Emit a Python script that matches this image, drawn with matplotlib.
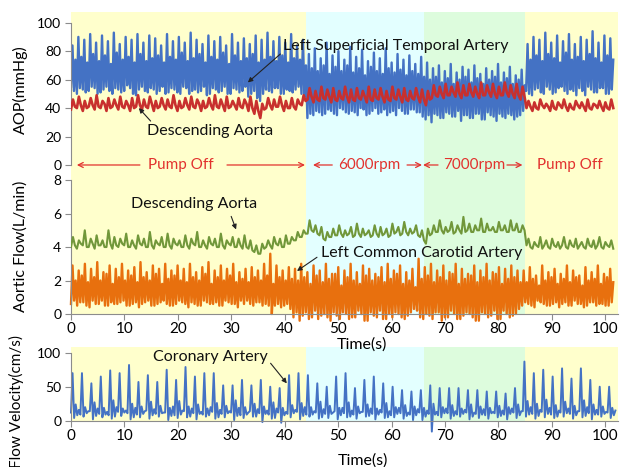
import numpy as np
import matplotlib.pyplot as plt

plt.rcParams["font.family"] = ["Lato", "DejaVu Sans"]

# pump phases (s)
phase_edges = [0, 44, 66, 85, 103]
phase_colors = ["#FFFFCC", "#E3FFFF", "#DDFCDD", "#FFFFCC"]
phase_names = ["Pump Off", "6000rpm", "7000rpm", "Pump Off"]

# AOP, left superficial temporal artery (mmHg), per beat: low, peak, low, mid
aop_lsta = [
    55, 84, 52, 74, 50, 90, 54, 76, 53, 88, 51, 72, 52, 92, 55, 78, 54, 86, 50, 73,
    51, 91, 53, 77, 55, 87, 52, 71, 50, 93, 54, 79, 53, 85, 51, 74, 52, 90, 56, 76,
    54, 88, 50, 72, 49, 92, 53, 78, 55, 86, 52, 73, 51, 91, 54, 75, 53, 89, 50, 77,
    52, 84, 55, 72, 50, 92, 51, 76, 54, 87, 53, 74, 51, 90, 50, 79, 55, 86, 54, 73,
    50, 93, 52, 75, 53, 88, 51, 78, 52, 85, 55, 72, 49, 91, 50, 76, 54, 87, 53, 74,
    51, 90, 52, 79, 55, 84, 50, 71, 50, 92, 54, 77, 53, 86, 51, 73, 52, 89, 55, 75,
    48, 85, 50, 78, 52, 91, 47, 72, 45, 88, 50, 74, 53, 93, 52, 76, 51, 87, 54, 73,
    54, 90, 50, 77, 50, 86, 53, 72, 52, 92, 51, 75, 53, 84, 55, 74, 50, 88, 48, 70,
    # 6000 rpm
    33, 78, 36, 68, 35, 82, 38, 66, 37, 75, 35, 70, 36, 86, 39, 64, 38, 77, 36, 69,
    35, 80, 40, 66, 39, 74, 37, 70, 36, 83, 38, 65, 37, 76, 35, 68, 40, 81, 39, 63,
    35, 73, 36, 69, 38, 79, 40, 66, 36, 75, 37, 64, 39, 82, 35, 68, 37, 72, 38, 65,
    35, 78, 40, 67, 38, 74, 36, 63, 36, 77, 39, 66, 39, 71, 37, 64, 37, 76, 34, 62,
    # 7000 rpm
    32, 72, 35, 60, 30, 68, 36, 62, 35, 70, 33, 58, 33, 66, 37, 61, 36, 71, 34, 57,
    34, 65, 38, 60, 31, 69, 35, 62, 35, 67, 33, 58, 33, 70, 36, 61, 36, 64, 32, 57,
    32, 68, 37, 60, 35, 66, 34, 62, 31, 71, 36, 58, 34, 65, 33, 61, 36, 69, 35, 57,
    32, 63, 34, 60, 35, 67, 38, 56,
    # pump off
    52, 85, 50, 74, 49, 90, 53, 77, 54, 88, 51, 73, 50, 93, 55, 78, 53, 86, 50, 75,
    51, 91, 54, 72, 55, 87, 52, 79, 50, 92, 53, 74, 52, 85, 49, 76, 54, 90, 52, 73,
    49, 88, 55, 78, 53, 94, 51, 75, 51, 86, 54, 72, 54, 91, 50, 77, 50, 89, 53, 74,
]

# AOP, descending aorta (mmHg), per beat: base, peak, base
aop_da = [
    39, 46, 41, 40, 48, 42, 38, 45, 40, 41, 47, 42, 39, 49, 41, 40, 45, 43, 38, 47, 40,
    41, 46, 42, 39, 48, 41, 40, 45, 42, 38, 47, 40, 41, 49, 42, 39, 46, 41, 40, 48, 43,
    38, 45, 40, 41, 47, 42, 39, 46, 41, 40, 49, 42, 38, 45, 40, 41, 47, 42, 39, 48, 41,
    40, 46, 43, 38, 45, 40, 41, 47, 42, 39, 49, 41, 40, 46, 42, 38, 48, 40, 41, 45, 42,
    39, 47, 41, 40, 46, 43, 38, 48, 40, 36, 45, 38, 33, 43, 39, 40, 47, 42, 39, 46, 41,
    41, 48, 42, 38, 45, 40, 40, 47, 41, 39, 46, 43, 42, 49, 45,
    46, 54, 48, 44, 52, 46, 45, 55, 47, 46, 53, 48, 44, 54, 46, 45, 52, 47, 46, 55, 48,
    44, 53, 46, 45, 54, 47, 46, 52, 48, 44, 55, 46, 45, 53, 47, 46, 54, 48, 44, 52, 46,
    45, 55, 47, 46, 53, 48, 44, 54, 46, 45, 52, 47, 46, 54, 48, 44, 53, 46,
    42, 52, 46, 47, 56, 49, 48, 55, 50, 47, 57, 49, 49, 55, 51, 48, 58, 50, 47, 56, 49,
    49, 57, 51, 48, 55, 50, 47, 58, 49, 49, 56, 51, 48, 57, 50, 47, 55, 49, 49, 58, 51,
    48, 56, 50, 47, 57, 49, 46, 55, 48,
    40, 45, 41, 38, 44, 40, 39, 46, 42, 40, 43, 41, 38, 45, 40, 39, 44, 42, 40, 46, 41,
    38, 43, 40, 39, 45, 42, 40, 44, 41, 38, 46, 40, 39, 43, 42, 40, 45, 41, 38, 44, 40,
    39, 46, 40,
]

# aortic flow, descending aorta (L/min), per beat: base, peak, base
flow_da = [
    4.0, 4.6, 4.1, 3.9, 4.4, 4.2, 4.1, 5.0, 4.0, 4.0, 4.5, 4.2, 3.9, 4.7, 4.1,
    4.1, 4.4, 4.0, 4.0, 5.0, 4.2, 3.9, 4.6, 4.1, 4.0, 4.5, 4.2, 4.1, 4.8, 4.0,
    4.0, 4.4, 4.1, 3.9, 4.7, 4.2, 4.1, 4.5, 4.0, 4.0, 4.9, 4.1, 3.9, 4.4, 4.2,
    4.1, 4.6, 4.0, 4.0, 4.8, 4.1, 3.9, 4.5, 4.2, 4.1, 4.4, 4.0, 4.0, 4.7, 4.1,
    3.9, 4.5, 4.2, 4.1, 4.9, 4.0, 4.0, 4.4, 4.1, 3.9, 4.6, 4.2, 4.1, 4.5, 4.0,
    4.0, 4.8, 4.1, 3.9, 4.4, 4.2, 4.1, 4.6, 4.0, 4.0, 4.5, 4.1, 3.9, 4.7, 4.0,
    3.9, 4.4, 3.8, 3.7, 4.1, 3.6, 3.6, 4.2, 3.9, 4.0, 4.4, 4.1, 3.9, 4.6, 4.2,
    4.1, 4.5, 4.0, 4.0, 4.7, 4.2, 4.2, 4.6, 4.4, 4.4, 4.9, 4.6, 4.6, 5.0, 4.8,
    4.8, 5.6, 5.0, 4.9, 5.3, 4.8, 4.7, 5.2, 4.5, 4.4, 4.9, 4.6, 4.6, 5.1, 4.7,
    4.7, 5.3, 4.8, 4.6, 5.0, 4.7, 4.8, 5.2, 4.6, 4.7, 5.4, 4.8, 4.6, 5.1, 4.7,
    4.8, 5.0, 4.6, 4.7, 5.3, 4.8, 4.6, 5.2, 4.7, 4.8, 5.1, 4.6, 4.7, 5.4, 4.8,
    4.9, 5.2, 4.7, 4.8, 5.5, 4.9, 4.7, 5.1, 4.8, 4.9, 5.3, 4.7, 4.6, 5.0, 4.4,
    4.2, 5.1, 4.7, 4.8, 5.3, 4.9, 4.9, 5.6, 5.0, 4.8, 5.2, 4.9, 5.0, 5.5, 4.8,
    4.9, 5.3, 5.0, 4.8, 5.8, 4.9, 5.0, 5.4, 4.9, 4.9, 5.3, 5.0, 5.0, 5.7, 4.9,
    4.9, 5.4, 5.0, 5.0, 5.2, 4.9, 4.9, 5.5, 5.0, 5.0, 5.3, 4.9, 4.9, 5.6, 5.0,
    5.0, 5.4, 4.9, 4.9, 5.3, 5.0,
    4.1, 4.5, 4.0, 3.9, 4.3, 4.1, 4.0, 4.6, 3.9, 4.1, 4.4, 4.0, 3.9, 4.5, 4.1,
    4.0, 4.3, 3.9, 4.1, 4.6, 4.0, 3.9, 4.4, 4.1, 4.0, 4.5, 3.9, 4.1, 4.3, 4.0,
    3.9, 4.5, 4.1, 4.0, 4.4, 3.9, 4.1, 4.6, 4.0, 3.9, 4.3, 4.1, 4.0, 4.4, 3.9,
]

# aortic flow, left common carotid artery (L/min), per beat: low, peak, low, mid
flow_lcca = [
    0.6, 2.9, 0.8, 2.0, 0.5, 2.6, 0.7, 2.3, 0.7, 3.0, 0.5, 1.9, 0.4, 2.7, 0.8, 2.2,
    0.6, 3.1, 0.6, 2.0, 0.8, 2.5, 0.5, 2.4, 0.5, 2.9, 0.7, 1.8, 0.6, 2.7, 0.6, 2.2,
    0.7, 3.0, 0.8, 2.0, 0.5, 2.6, 0.5, 2.3, 0.6, 2.8, 0.7, 1.9, 0.4, 3.1, 0.6, 2.2,
    0.7, 2.5, 0.8, 2.0, 0.5, 2.9, 0.5, 2.4, 0.6, 2.7, 0.7, 1.8, 0.8, 3.0, 0.6, 2.1,
    0.5, 2.6, 0.5, 2.3, 0.6, 2.9, 0.8, 2.0, 0.7, 2.7, 0.6, 1.9, 0.4, 3.0, 0.7, 2.2,
    0.6, 2.5, 0.5, 2.0, 0.5, 2.8, 0.8, 2.4, 0.7, 3.1, 0.6, 1.8, 0.6, 2.6, 0.7, 2.2,
    0.5, 2.9, 0.5, 2.0, 0.8, 2.7, 0.7, 2.3, 0.6, 3.0, 0.6, 1.9, 0.4, 2.5, 0.8, 2.1,
    0.6, 2.7, 0.8, 1.9, 0.6, 2.8, 0.5, 2.2, 0.7, 2.6, 0.7, 2.0, 0.5, 3.0, 0.6, 2.3,
    0.5, 3.6, 0.0, 1.8, 0.5, 2.9, 0.6, 2.2, 0.4, 2.6, 0.5, 2.0, 0.6, 2.8, 0.3, 2.1,
    -0.2, 2.7, 0.1, 2.0, -0.4, 3.0, -0.1, 2.2, 0.1, 2.5, -0.3, 1.8, -0.2, 2.9, 0.2, 2.3,
    -0.3, 2.6, -0.1, 1.9, 0.0, 3.0, -0.2, 2.1, -0.4, 2.4, 0.1, 2.4, -0.1, 2.8, -0.3, 1.7,
    0.1, 2.6, 0.0, 2.2, -0.3, 3.0, -0.2, 2.0, -0.2, 2.5, 0.2, 1.8, 0.0, 2.9, -0.4, 2.3,
    -0.4, 2.7, 0.1, 2.0, -0.1, 2.4, -0.2, 2.2, 0.2, 2.8, -0.3, 1.9, -0.3, 3.0, 0.0, 2.1,
    -0.2, 2.6, 0.1, 2.4, 0.0, 2.9, -0.2, 1.8, -0.3, 2.5, -0.1, 2.0, 0.1, 2.7, 0.3, 1.6,
    0.2, 3.3, -0.2, 2.1, -0.3, 2.8, 0.0, 2.3, -0.1, 3.0, -0.3, 1.9, 0.1, 2.6, 0.1, 2.2,
    -0.4, 2.9, -0.2, 2.0, -0.2, 2.5, 0.2, 2.4, 0.0, 3.0, -0.3, 1.8, -0.3, 2.7, -0.1, 2.1,
    0.1, 2.4, 0.0, 2.3, -0.2, 2.9, -0.4, 1.9, -0.4, 2.6, 0.1, 2.2, 0.0, 3.0, -0.2, 2.0,
    -0.1, 2.5, 0.2, 2.4, -0.3, 2.8, -0.3, 1.8, 0.2, 2.7, 0.0, 2.1, -0.2, 2.9, -0.1, 2.2,
    0.0, 2.6, 0.3, 1.9,
    0.5, 2.6, 0.7, 1.9, 0.6, 2.8, 0.5, 2.1, 0.4, 2.3, 0.8, 1.7, 0.7, 2.9, 0.6, 2.0,
    0.5, 2.5, 0.5, 2.2, 0.6, 2.7, 0.7, 1.8, 0.4, 2.4, 0.6, 2.1, 0.7, 2.9, 0.5, 1.9,
    0.5, 2.6, 0.8, 2.2, 0.6, 2.3, 0.6, 1.7, 0.4, 2.8, 0.5, 2.0, 0.7, 2.5, 0.7, 2.1,
    0.5, 2.9, 0.6, 1.8, 0.6, 2.4, 0.5, 2.2, 0.5, 2.7, 0.7, 1.9,
]

# flow velocity, coronary artery (cm/s), per beat: base, peak, dip, bump, low, wiggle
vel_coronary = [
    12, 70, 4, 24, 8, 16, 9, 70, 6, 20, 11, 14, 14, 55, 2, 27, 7, 18,
    10, 65, 5, 19, 9, 13, 8, 74, 3, 30, 6, 20, 13, 70, 7, 18, 12, 15,
    11, 82, 2, 25, 5, 19, 9, 57, 5, 21, 10, 14, 15, 67, 3, 28, 8, 17,
    10, 57, 6, 22, 11, 12, 12, 75, 1, 19, 7, 21, 8, 60, 4, 29, 9, 15,
    14, 79, 5, 21, 6, 18, 11, 65, 2, 24, 10, 13, 9, 70, 6, 18, 8, 20,
    13, 70, 3, 26, 5, 16, 10, 52, 5, 22, 11, 14, 12, 52, 1, 30, 7, 19,
    8, 60, 4, 20, 9, 12, 14, 52, 6, 25, 6, 17, 11, 60, -2, 21, 10, 15,
    9, 50, 3, 27, 4, 18, 12, 48, -3, 19, 8, 13, 10, 67, 5, 23, 11, 16,
    13, 70, 2, 26, 7, 20, 9, 67, 6, 20, 9, 14, 12, 55, 3, 28, 5, 17,
    10, 50, 4, 22, 10, 12, 14, 65, 2, 19, 8, 19, 11, 70, 5, 27, 6, 15,
    9, 48, 3, 21, 11, 13, 13, 60, 6, 24, 7, 18, 10, 65, 2, 18, 9, 16,
    12, 55, 4, 26, 5, 14, 8, 50, 5, 20, 10, 19, 11, 45, 3, 23, 7, 12,
    9, 43, 1, 21, 8, 17, 12, 45, 1, 19, 6, 15, 10, 52, -16, 25, 9, 13,
    8, 48, 5, 20, 11, 18, 11, 48, 3, 23, 7, 14, 9, 48, 6, 18, 10, 16,
    12, 45, 2, 24, 6, 12, 10, 45, 4, 21, 9, 17, 8, 43, 3, 19, 11, 13,
    11, 43, 5, 22, 7, 15, 9, 40, 2, 20, 10, 18, 12, 48, 4, 24, 8, 14,
    14, 87, 6, 29, 9, 20, 10, 70, 3, 25, 7, 16, 13, 75, 5, 31, 10, 19,
    9, 65, 4, 23, 6, 15, 12, 77, 6, 28, 11, 18, 10, 62, 3, 22, 8, 14,
    14, 77, 5, 30, 7, 20, 11, 60, 2, 24, 9, 16, 9, 50, 6, 21, 10, 13,
    12, 50, 4, 19, 8, 15,
]

blue = "#4472C4"
red_line = "#C8302E"
green = "#71973A"
orange = "#E8700E"
note_red = "#E2322E"
axis_grey = "#8C8C8C"
X_MAX = 102.4


def time_axis(values, end=101.5):
    return np.linspace(0, end, len(values))


def style_axes(ax, ymax, yticks, show_x):
    for x0, x1, c in zip(phase_edges[:-1], phase_edges[1:], phase_colors):
        ax.axvspan(x0, x1, color=c, lw=0, zorder=0)
    ax.set_xlim(0, X_MAX)
    ax.set_ylim(0, ymax)
    ax.set_facecolor("white")
    for s in ["top", "right"]:
        ax.spines[s].set_visible(False)
    ax.spines["left"].set_color(axis_grey)
    ax.spines["left"].set_bounds(yticks[0], yticks[-1])
    ax.set_yticks(yticks)
    ax.tick_params(axis="y", direction="out", length=4, color=axis_grey,
                   labelsize=10, pad=3)
    if show_x:
        ax.spines["bottom"].set_color(axis_grey)
        ax.set_xticks(range(0, 101, 10))
        ax.tick_params(axis="x", direction="out", length=4, color=axis_grey,
                       labelsize=11, pad=2)
    else:
        ax.spines["bottom"].set_visible(False)
        ax.set_xticks([])


fig = plt.figure(figsize=(6.21, 4.67), dpi=100)
ax1 = fig.add_axes([0.1143, 0.6467, 0.881, 0.3276])
ax2 = fig.add_axes([0.1143, 0.3276, 0.881, 0.3191])
ax3 = fig.add_axes([0.1143, 0.0991, 0.881, 0.1578])
ax1.set_zorder(3)

# top: AOP
style_axes(ax1, 107.5, [0, 20, 40, 60, 80, 100], False)
ax1.plot(time_axis(aop_lsta), aop_lsta, color=blue, lw=1.7, zorder=2)
ax1.plot(time_axis(aop_da), aop_da, color=red_line, lw=1.9, zorder=3)

arrow_k = dict(arrowstyle="-|>", color="#222222", lw=0.8, mutation_scale=7)
ax1.annotate("Left Superficial Temporal Artery", xy=(33.1, 58), xytext=(39.7, 83.6),
             fontsize=11.5, va="center", ha="left", color="#111111",
             arrowprops=dict(arrow_k, shrinkA=0, shrinkB=0, relpos=(0, 0.1)))
ax1.annotate("Descending Aorta", xy=(12.7, 40), xytext=(14.2, 24),
             fontsize=11.5, va="center", ha="left", color="#111111",
             arrowprops=dict(arrow_k, shrinkA=0, shrinkB=0, relpos=(0.05, 1)))

# phase labels with red arrows along the zero line
red_arrow = dict(arrowstyle="->", color=note_red, lw=0.9, mutation_scale=9,
                 shrinkA=0, shrinkB=0)
phase_arrows = [(1.1, 12.9, 29.2, 43.8), (45.3, 48.9, 62.9, 65.7),
                (65.9, 68.7, 81.6, 84.5)]
phase_mids = [20.5, 55.8, 75.4, 93.3]
for i, name in enumerate(phase_names):
    if i < len(phase_arrows):
        a0, t0, t1, a1 = phase_arrows[i]
        ax1.annotate("", xy=(a0, 0), xytext=(t0, 0), arrowprops=red_arrow,
                     annotation_clip=False)
        ax1.annotate("", xy=(a1, 0), xytext=(t1, 0), arrowprops=red_arrow,
                     annotation_clip=False)
    ax1.text(phase_mids[i], 0, name, color=note_red, fontsize=11, ha="center",
             va="center", clip_on=False, zorder=5)

# middle: aortic flow
style_axes(ax2, 8.9, [0, 2, 4, 6, 8], True)
ax2.plot(time_axis(flow_lcca), flow_lcca, color=orange, lw=1.7, zorder=2,
         clip_on=False)
ax2.plot(time_axis(flow_da), flow_da, color=green, lw=1.5, zorder=3)
ax2.annotate("Descending Aorta", xy=(30.9, 5.05), xytext=(23.0, 6.57),
             fontsize=11.5, va="center", ha="center", color="#111111",
             arrowprops=dict(arrow_k, shrinkA=2, shrinkB=0, relpos=(0.78, 0)))
ax2.annotate("Left Common Carotid Artery", xy=(42.3, 2.57), xytext=(46.8, 3.64),
             fontsize=11.5, va="center", ha="left", color="#111111",
             arrowprops=dict(arrow_k, shrinkA=0, shrinkB=0, relpos=(-0.02, 0.2)))

# bottom: coronary flow velocity
style_axes(ax3, 108.4, [0, 50, 100], True)
ax3.plot(time_axis(vel_coronary, 101.9), vel_coronary, color=blue, lw=1.4,
         zorder=2, clip_on=False)
ax3.annotate("Coronary Artery", xy=(40.4, 55), xytext=(26.1, 93.7),
             fontsize=11.5, va="center", ha="center", color="#111111",
             arrowprops=dict(arrow_k, shrinkA=0, shrinkB=0, relpos=(1, 0.3)))

# axis titles
fig.text(20 / 621, 1 - 90 / 467, "AOP(mmHg)", rotation=90, ha="center",
         va="center", fontsize=11.5)
fig.text(21 / 621, 1 - 246 / 467, "Aortic Flow(L/min)", rotation=90,
         ha="center", va="center", fontsize=11.5)
fig.text(16 / 621, 1 - 401 / 467, "Flow Velocity(cm/s)", rotation=90,
         ha="center", va="center", fontsize=11)
fig.text(362 / 621, 1 - 345 / 467, "Time(s)", ha="center", va="center",
         fontsize=11.5)
fig.text(363 / 621, 1 - 461 / 467, "Time(s)", ha="center", va="center",
         fontsize=11.5)

fig.savefig("out.png", dpi=100)
